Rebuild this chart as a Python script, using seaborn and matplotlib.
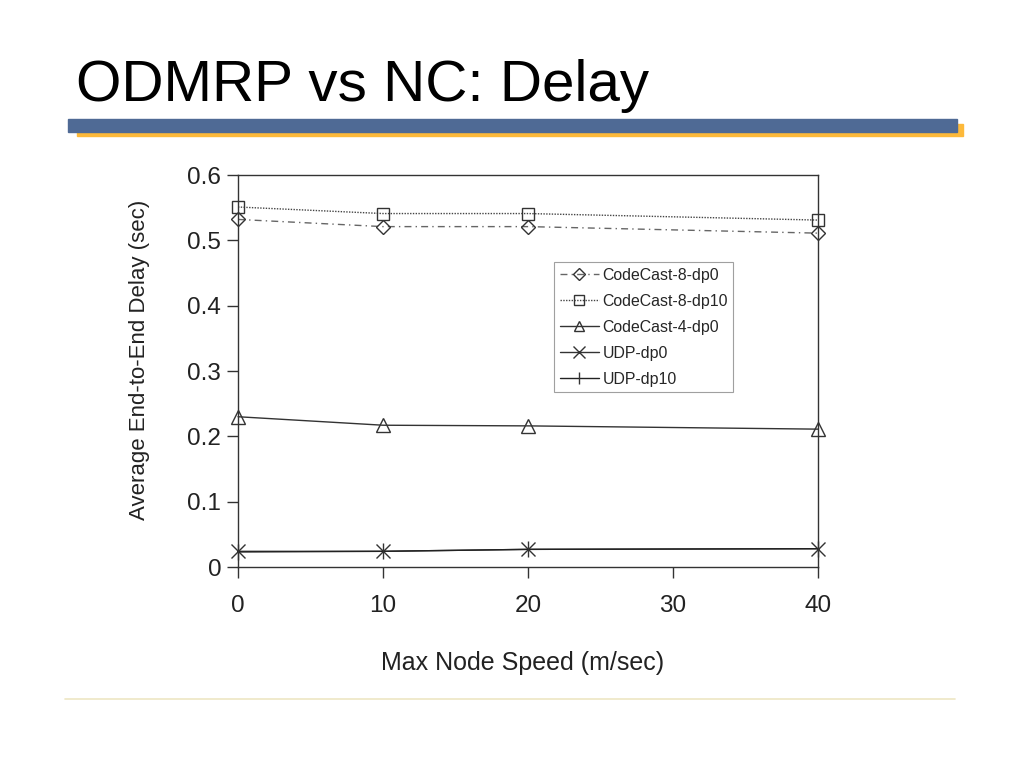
import pandas as pd
import seaborn as sns
import matplotlib
import matplotlib.pyplot as plt
from matplotlib.patches import Rectangle
from matplotlib.lines import Line2D

matplotlib.use("Agg")

# Dados
velocidades = [0, 10, 20, 40]
codecast_8_dp0 = [0.532, 0.521, 0.521, 0.511]
codecast_8_dp10 = [0.551, 0.541, 0.541, 0.531]
codecast_4_dp0 = [0.230, 0.217, 0.216, 0.211]
udp_dp0 = [0.024, 0.024, 0.027, 0.028]
udp_dp10 = [0.023, 0.024, 0.027, 0.028]

series = ["CodeCast-8-dp0", "CodeCast-8-dp10", "CodeCast-4-dp0", "UDP-dp0", "UDP-dp10"]
valores = [codecast_8_dp0, codecast_8_dp10, codecast_4_dp0, udp_dp0, udp_dp10]

df = pd.DataFrame(
    [(s, x, v) for s, vals in zip(series, valores) for x, v in zip(velocidades, vals)],
    columns=["serie", "velocidade", "atraso"],
)

sns.set_style("white")
plt.rcParams["font.family"] = ["Liberation Sans", "DejaVu Sans"]

estilos = {
    "CodeCast-8-dp0": dict(marker="D", ls=(0, (5, 3, 1, 3)), ms=7.5, lc="#666666"),
    "CodeCast-8-dp10": dict(marker="s", ls=(0, (1, 1)), ms=9, lc="#444444"),
    "CodeCast-4-dp0": dict(marker="^", ls="-", ms=9.5, lc="#333333"),
    "UDP-dp0": dict(marker="x", ls="-", ms=10.5, lc="#333333"),
    "UDP-dp10": dict(marker="|", ls="-", ms=11, lc="#222222"),
}

fig = plt.figure(figsize=(10.24, 7.68), dpi=100)

# Título e barras decorativas do slide
fig.text(0.074, 1 - 101 / 768, "ODMRP vs NC: Delay", fontsize=42, family="Liberation Sans",
         va="baseline", ha="left", color="black")
fig.patches.append(Rectangle((77 / 1024, 1 - 136 / 768), 886 / 1024, 12 / 768,
                             transform=fig.transFigure, color="#FDB93A", zorder=1))
fig.patches.append(Rectangle((68 / 1024, 1 - 132 / 768), 889 / 1024, 13 / 768,
                             transform=fig.transFigure, color="#4F6A95", zorder=2))
fig.add_artist(Line2D([65 / 1024, 955 / 1024], [1 - 699 / 768, 1 - 699 / 768],
                      transform=fig.transFigure, color="#EEE6C4", lw=1.2))

ax = fig.add_axes([238 / 1024, 1 - 567 / 768, 580 / 1024, 392 / 768])

handles = []
for s in series:
    e = estilos[s]
    d = df[df["serie"] == s]
    sns.lineplot(data=d, x="velocidade", y="atraso", ax=ax, color=e["lc"],
                 linestyle=e["ls"], lw=1.0, marker=e["marker"], markersize=e["ms"],
                 markerfacecolor="none", markeredgecolor="#333333",
                 markeredgewidth=1.0, clip_on=False, legend=False)
    handles.append(Line2D([], [], color=e["lc"], linestyle=e["ls"], lw=1.0,
                          marker=e["marker"], markersize=e["ms"] * 0.8,
                          markerfacecolor="none", markeredgecolor="#333333",
                          markeredgewidth=1.0))

ax.set_xlim(0, 40)
ax.set_ylim(0, 0.6)
ax.set_xticks([0, 10, 20, 30, 40])
ax.set_yticks([0, 0.1, 0.2, 0.3, 0.4, 0.5, 0.6])
ax.set_yticklabels(["0", "0.1", "0.2", "0.3", "0.4", "0.5", "0.6"])
ax.tick_params(axis="both", direction="out", length=8, width=1, colors="#333333",
               labelsize=17.5, labelcolor="#222222", left=True, bottom=True)
ax.tick_params(axis="x", pad=12)
ax.tick_params(axis="y", pad=4)
for sp in ax.spines.values():
    sp.set_color("#333333")
    sp.set_linewidth(1.0)
    sp.set_visible(True)

ax.set_xlabel("Max Node Speed (m/sec)", fontsize=18, color="#222222")
ax.set_ylabel("Average End-to-End Delay (sec)", fontsize=16, color="#222222")
ax.xaxis.set_label_coords(0.49, -0.215)
ax.yaxis.set_label_coords(-0.152, 0.528)

leg = ax.legend(handles, series, loc="upper left", bbox_to_anchor=(0.545, 0.778),
                fontsize=11.4, frameon=True, fancybox=False, edgecolor="#888888",
                handlelength=2.5, handletextpad=0.2, labelspacing=0.7,
                borderpad=0.35, borderaxespad=0)
leg.get_frame().set_linewidth(0.8)

fig.savefig("out.png", dpi=100, facecolor="white")
